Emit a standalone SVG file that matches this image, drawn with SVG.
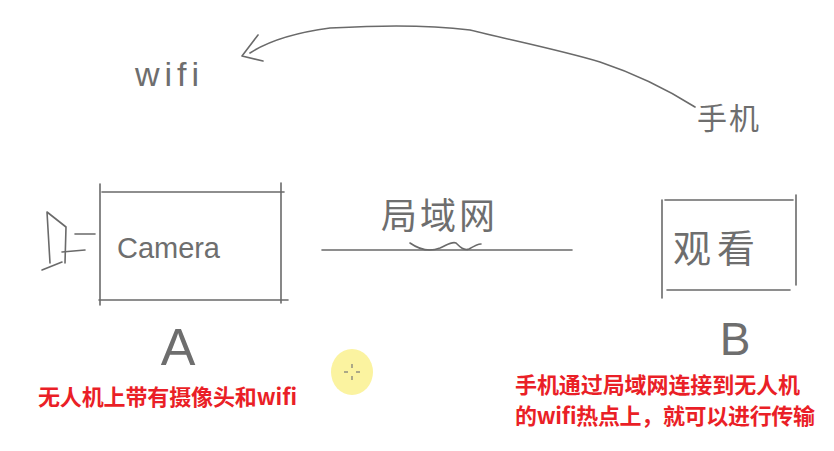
<svg xmlns="http://www.w3.org/2000/svg" width="834" height="451" viewBox="0 0 834 451">
<style>
.ink{fill:none;stroke:#6a6a6a;stroke-width:1.6;stroke-linecap:round;stroke-linejoin:round}
.hand{fill:#6e6e6e;font-family:"Liberation Sans","DejaVu Sans",sans-serif;font-weight:normal}
.handcn{fill:#6e6e6e;font-family:"Noto Sans CJK SC",sans-serif;font-weight:normal}
.note{fill:#ea1f27;font-family:"Noto Sans CJK SC","Liberation Sans",sans-serif;font-weight:bold;font-size:22px}
</style>
<rect width="834" height="451" fill="#ffffff"/>

<g id="connectors">
  <path class="ink" d="M695,107 C665,88 630,72 600,62 C560,50 510,40 470,30 C420,24 370,26 330,28 C300,32 270,40 250,53"/>
  <path class="ink" d="M258,35 L242,56 L263,61"/>
  <line class="ink" x1="322" y1="250" x2="572" y2="250"/>
  <path class="ink" d="M410,243 C420,250 430,252 440,248 C447,245 452,241 456,243 C460,247 464,251 469,249 C474,246 478,244 481,244"/>
</g>

<g id="wifi">
  <text class="hand" x="135" y="86" font-size="34" textLength="64">wifi</text>
</g>

<g id="phone">
  <text class="handcn" x="697" y="129" font-size="30" textLength="62">手机</text>
</g>

<g id="lan">
  <text class="handcn" x="381" y="229" font-size="36" textLength="114">局域网</text>
</g>

<g id="nodeA">
  <line class="ink" x1="102" y1="192" x2="284" y2="192"/>
  <line class="ink" x1="100" y1="184" x2="100" y2="305"/>
  <line class="ink" x1="281" y1="183" x2="281" y2="303"/>
  <line class="ink" x1="99" y1="300" x2="288" y2="300"/>
  <path class="ink" d="M50,263 L47,212 L66,227 L65,263"/>
  <path class="ink" d="M42,270 L62,262"/>
  <line class="ink" x1="75" y1="234" x2="95" y2="234"/>
  <line class="ink" x1="62" y1="252" x2="85" y2="250"/>
  <text class="hand" x="117" y="258" font-size="29" textLength="103">Camera</text>
  <text class="hand" x="178" y="365" font-size="52" text-anchor="middle">A</text>
</g>

<g id="nodeB">
  <line class="ink" x1="665" y1="200" x2="793" y2="200"/>
  <line class="ink" x1="662" y1="200" x2="662" y2="298"/>
  <line class="ink" x1="796" y1="195" x2="796" y2="285"/>
  <line class="ink" x1="667" y1="290" x2="790" y2="290"/>
  <text class="handcn" x="673" y="262" font-size="38" textLength="82">观看</text>
  <text class="hand" x="735" y="355" font-size="46" text-anchor="middle">B</text>
</g>

<g id="cursor">
  <ellipse cx="352" cy="372" rx="21" ry="23" fill="#fbf3a0"/>
  <g stroke="#777" stroke-width="1.2">
    <line x1="352" y1="364" x2="352" y2="368"/>
    <line x1="352" y1="376" x2="352" y2="380"/>
    <line x1="344" y1="372" x2="348" y2="372"/>
    <line x1="356" y1="372" x2="360" y2="372"/>
  </g>
</g>

<g id="notes">
  <text class="note" x="38" y="405" textLength="259">无人机上带有摄像头和wifi</text>
  <text class="note" x="515" y="393" textLength="285">手机通过局域网连接到无人机</text>
  <text class="note" x="515" y="424" textLength="300">的wifi热点上，就可以进行传输</text>
</g>
</svg>
